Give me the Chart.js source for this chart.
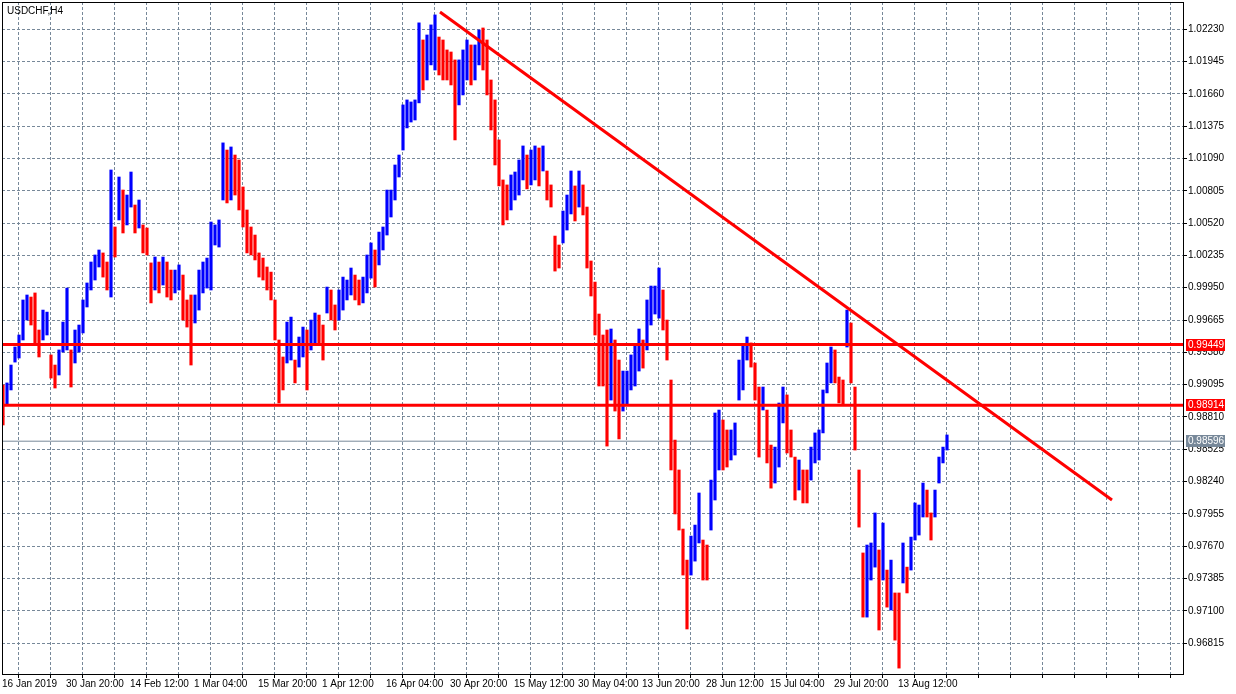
<!DOCTYPE html>
<html>
<head>
<meta charset="utf-8">
<title>USDCHF,H4</title>
<script src="https://cdn.jsdelivr.net/npm/chart.js@4.4.0/dist/chart.umd.min.js"></script>
<style>
  html, body { margin: 0; padding: 0; background: #fff; }
  #wrap { width: 1236px; height: 694px; position: relative; }
</style>
</head>
<body>
<div id="wrap"><canvas id="grafUsdChf"></canvas></div>
<script>
//Data
const chartTitle = 'USDCHF,H4';

// one sample every 4 H4 bars, counted from 16 Jan 2019 00:00
const barStep = 4;

const barHigh = [
  0.99092, 0.99110, 0.99268, 0.99427, 0.99533, 0.99842, 0.99886, 0.99868, 0.99904, 0.99577,
  0.99753, 0.99735, 0.99357, 0.99268, 0.99401, 0.99647, 0.99947, 0.99401, 0.99577, 0.99621,
  0.99842, 0.99992, 1.00177, 1.00239, 1.00283, 1.00257, 1.00177, 1.00989, 1.00486, 1.00927,
  1.00812, 1.00768, 1.00971, 1.00680, 1.00724, 1.00504, 1.00477, 1.00169, 1.00221, 1.00177,
  1.00221, 1.00177, 1.00106, 1.00106, 1.00151, 1.00062, 0.99842, 0.99886, 0.99886, 1.00106,
  1.00177, 1.00212, 1.00530, 1.00504, 1.00548, 1.01228, 1.01165, 1.01192, 1.01121, 1.01077,
  1.00839, 1.00636, 1.00486, 1.00415, 1.00257, 1.00212, 1.00133, 1.00088, 0.99842, 0.99489,
  0.99339, 0.99647, 0.99691, 0.99312, 0.99515, 0.99603, 0.99577, 0.99665, 0.99727, 0.99709,
  0.99621, 0.99956, 0.99930, 0.99798, 0.99930, 1.00044, 1.00018, 1.00124, 1.00062, 1.00018,
  1.00044, 1.00239, 1.00345, 1.00283, 1.00441, 1.00486, 1.00812, 1.00812, 1.01033, 1.01121,
  1.01563, 1.01607, 1.01589, 1.01607, 1.02287, 1.02136, 1.02180, 1.02269, 1.02357, 1.02162,
  1.02136, 1.02048, 1.02030, 1.01960, 1.01960, 1.02048, 1.02136, 1.02092, 1.02092, 1.02224,
  1.02242, 1.02136, 1.01783, 1.01607, 1.01254, 1.00901, 1.00857, 1.00945, 1.00971, 1.01077,
  1.01201, 1.01121, 1.01165, 1.01201, 1.01183, 1.01201, 1.00980, 1.00857, 1.00406, 1.00327,
  1.00627, 1.00768, 1.00980, 1.00848, 1.00980, 1.00857, 1.00662, 1.00186, 1.00000, 0.99718,
  0.99533, 0.99577, 0.99586, 0.99489, 0.99312, 0.99215, 0.99215, 0.99357, 0.99445, 0.99586,
  0.99489, 0.99842, 0.99965, 0.99965, 1.00124, 0.99930, 0.99665, 0.99136, 0.98606, 0.98342,
  0.97821, 0.97547, 0.97759, 0.97856, 0.98139, 0.97724, 0.97680, 0.98253, 0.98845, 0.98871,
  0.98783, 0.98695, 0.98695, 0.98757, 0.99312, 0.99445, 0.99515, 0.99463, 0.99286, 0.99074,
  0.99074, 0.98871, 0.98562, 0.98544, 0.98933, 0.99074, 0.99004, 0.98695, 0.98456, 0.98430,
  0.98342, 0.98342, 0.98544, 0.98669, 0.98695, 0.99048, 0.99286, 0.99427, 0.99401, 0.99162,
  0.99136, 0.99753, 0.99639, 0.99074, 0.98342, 0.97610, 0.97680, 0.97698, 0.97963, 0.97636,
  0.97874, 0.97459, 0.97547, 0.97257, 0.97257, 0.97698, 0.97485, 0.97750, 0.98051, 0.98033,
  0.98227, 0.98165, 0.97963, 0.98165, 0.98456, 0.98544, 0.98651
];

const barLow = [
  0.98739, 0.98915, 0.99048, 0.99294, 0.99330, 0.99489, 0.99665, 0.99621, 0.99445, 0.99339,
  0.99489, 0.99533, 0.99153, 0.99065, 0.99180, 0.99383, 0.99401, 0.99074, 0.99286, 0.99383,
  0.99551, 0.99780, 0.99930, 1.00018, 1.00133, 1.00044, 0.99930, 0.99868, 1.00221, 1.00548,
  1.00433, 1.00504, 1.00662, 1.00433, 1.00477, 1.00257, 1.00239, 0.99816, 0.99930, 0.99904,
  0.99974, 0.99868, 0.99842, 0.99904, 0.99930, 0.99665, 0.99603, 0.99268, 0.99639, 0.99753,
  0.99904, 0.99947, 0.99930, 1.00327, 1.00309, 1.00724, 1.00698, 1.00724, 1.00768, 1.00636,
  1.00486, 1.00257, 1.00239, 1.00195, 1.00044, 1.00018, 0.99930, 0.99842, 0.99489, 0.98933,
  0.99048, 0.99286, 0.99312, 0.99110, 0.99250, 0.99339, 0.99048, 0.99401, 0.99445, 0.99445,
  0.99312, 0.99727, 0.99665, 0.99577, 0.99665, 0.99753, 0.99842, 0.99886, 0.99842, 0.99798,
  0.99816, 0.99904, 1.00035, 0.99956, 1.00151, 1.00283, 1.00415, 1.00574, 1.00724, 1.00927,
  1.01165, 1.01360, 1.01412, 1.01430, 1.01581, 1.01695, 1.01783, 1.01916, 1.01871, 1.01827,
  1.01783, 1.01783, 1.01739, 1.01254, 1.01563, 1.01651, 1.01783, 1.01739, 1.01783, 1.01916,
  1.01871, 1.01651, 1.01342, 1.01033, 1.00848, 1.00504, 1.00548, 1.00636, 1.00724, 1.00768,
  1.00901, 1.00822, 1.00857, 1.00901, 1.00848, 1.00980, 1.00724, 1.00662, 1.00097, 1.00124,
  1.00345, 1.00459, 1.00601, 1.00539, 1.00662, 1.00592, 1.00124, 0.99877, 0.99533, 0.99083,
  0.99083, 0.98553, 0.98959, 0.98862, 0.98616, 0.98862, 0.98915, 0.99048, 0.99083, 0.99215,
  0.99241, 0.99401, 0.99621, 0.99718, 0.99682, 0.99577, 0.99312, 0.98342, 0.97954, 0.97812,
  0.97415, 0.96939, 0.97415, 0.97538, 0.97698, 0.97371, 0.97371, 0.97812, 0.98077, 0.98342,
  0.98342, 0.98368, 0.98430, 0.98474, 0.98959, 0.99048, 0.99312, 0.99250, 0.98959, 0.98456,
  0.98871, 0.98404, 0.98182, 0.98227, 0.98368, 0.98757, 0.98492, 0.98456, 0.98077, 0.98165,
  0.98051, 0.98051, 0.98253, 0.98404, 0.98430, 0.98669, 0.99022, 0.99110, 0.99110, 0.98933,
  0.98915, 0.99427, 0.99110, 0.98518, 0.97838, 0.97044, 0.97044, 0.97371, 0.97485, 0.96930,
  0.97371, 0.97132, 0.97106, 0.96841, 0.96594, 0.97345, 0.97257, 0.97459, 0.97724, 0.97768,
  0.97927, 0.97927, 0.97724, 0.97927, 0.98227, 0.98404, 0.98518
];

const timeLabels = [
  '16 Jan 2019', '30 Jan 20:00', '14 Feb 12:00', '1 Mar 04:00', '15 Mar 20:00',
  '1 Apr 12:00', '16 Apr 04:00', '30 Apr 20:00', '15 May 12:00', '30 May 04:00',
  '13 Jun 20:00', '28 Jun 12:00', '15 Jul 04:00', '29 Jul 20:00', '13 Aug 12:00'
];

const priceTicks = [
  0.96815, 0.97100, 0.97385, 0.97670, 0.97955, 0.98240, 0.98525, 0.98810, 0.99095, 0.99380,
  0.99665, 0.99950, 1.00235, 1.00520, 1.00805, 1.01090, 1.01375, 1.01660, 1.01945, 1.02230
];

const levelPrices = [0.99449, 0.98914];
const lastPrice = 0.98596;
const trendStart = { bar: 438, price: 1.02383 };
const trendEnd = { bar: 1110, price: 0.98077 };
//End data

const corAlta = '#0000ff';
const corBaixa = '#ff0000';
const corGrade = '#778899';
const fonte = { family: 'Liberation Sans', size: 10 };
const lastBar = 1181;

const meio = barHigh.map((h, i) => (h + barLow[i]) / 2);
const barras = barHigh.map((h, i) => ({ x: i * barStep + 1, y: [barLow[i], h] }));
const coresBarras = meio.map((m, i) => (i > 0 && m > meio[i - 1]) ? corAlta : corBaixa);

const priceBoxes = [
  { price: levelPrices[0], color: corBaixa },
  { price: levelPrices[1], color: corBaixa },
  { price: lastPrice, color: corGrade }
];

const chartExtras = {
  id: 'chartExtras',
  afterDraw(chart) {
    const c = chart.ctx;
    const area = chart.chartArea;
    const yScale = chart.scales.y;
    c.save();
    c.strokeStyle = '#000';
    c.lineWidth = 1;
    c.strokeRect(area.left + 0.5, area.top + 0.5, area.right - area.left, area.bottom - area.top);

    c.fillStyle = '#000';
    c.font = '10px "Liberation Sans"';
    c.textBaseline = 'top';
    c.fillText(chartTitle, area.left + 5, area.top + 4);

    c.textBaseline = 'middle';
    priceBoxes.forEach(b => {
      const y = Math.round(yScale.getPixelForValue(b.price));
      c.fillStyle = b.color;
      c.fillRect(area.right + 3, y - 6, 39, 12);
      c.fillStyle = '#fff';
      c.fillText(b.price.toFixed(5), area.right + 5, y + 0.5);
    });
    c.restore();
  }
};

const levelLine = (price, color, width, order) => ({
  type: 'line',
  data: [{ x: 0, y: price }, { x: lastBar, y: price }],
  borderColor: color,
  borderWidth: width,
  pointRadius: 0,
  tension: 0,
  fill: false,
  order: order
});

// no extra room for half labels at the ends of the axes
const noPadding = (scale) => {
  scale.paddingTop = 0;
  scale.paddingBottom = 0;
  scale.paddingLeft = 0;
  scale.paddingRight = 0;
};

const ctx = document.getElementById('grafUsdChf').getContext('2d');

const myChart = new Chart(ctx, {
  type: 'bar',
  data: {
    datasets: [
      {
        type: 'line',
        data: [{ x: trendStart.bar, y: trendStart.price }, { x: trendEnd.bar, y: trendEnd.price }],
        borderColor: corBaixa,
        borderWidth: 3,
        pointRadius: 0,
        tension: 0,
        fill: false,
        order: 0
      },
      levelLine(levelPrices[0], corBaixa, 3, 0),
      levelLine(levelPrices[1], corBaixa, 3, 0),
      {
        type: 'bar',
        data: barras,
        backgroundColor: coresBarras,
        borderWidth: 0,
        barThickness: 2.5,
        grouped: false,
        order: 1
      },
      levelLine(lastPrice, corGrade, 1, 2)
    ]
  },
  options: {
    responsive: true,
    maintainAspectRatio: false,
    animation: false,
    layout: { padding: { left: 2, top: 2, right: 0, bottom: 0 } },
    plugins: {
      legend: { display: false },
      tooltip: { enabled: false }
    },
    scales: {
      x: {
        type: 'linear',
        position: 'bottom',
        min: 0,
        max: lastBar,
        offset: false,
        afterFit(scale) { scale.height = 20; noPadding(scale); },
        afterBuildTicks(scale) {
          const t = [];
          for (let v = 0; v <= lastBar; v += 32) t.push({ value: v });
          scale.ticks = t;
        },
        ticks: {
          autoSkip: false,
          maxRotation: 0,
          align: 'start',
          padding: 0,
          color: '#000',
          font: fonte,
          callback(value) {
            const k = Math.round(value / 32);
            return (k % 2 === 0 && timeLabels[k / 2]) ? timeLabels[k / 2] : '';
          }
        },
        grid: { color: corGrade, tickColor: '#000', tickLength: 4 },
        border: { display: false, dash: [3, 2] }
      },
      y: {
        type: 'linear',
        position: 'right',
        min: 0.96542,
        max: 1.02471,
        afterFit(scale) { scale.width = 53; noPadding(scale); },
        afterBuildTicks(scale) {
          scale.ticks = priceTicks.map(v => ({ value: v }));
        },
        ticks: {
          color: '#000',
          padding: 1,
          font: fonte,
          callback: v => v.toFixed(5)
        },
        grid: { color: corGrade, tickColor: '#000', tickLength: 4 },
        border: { display: false, dash: [3, 2] }
      }
    }
  },
  plugins: [chartExtras]
});
</script>
</body>
</html>
